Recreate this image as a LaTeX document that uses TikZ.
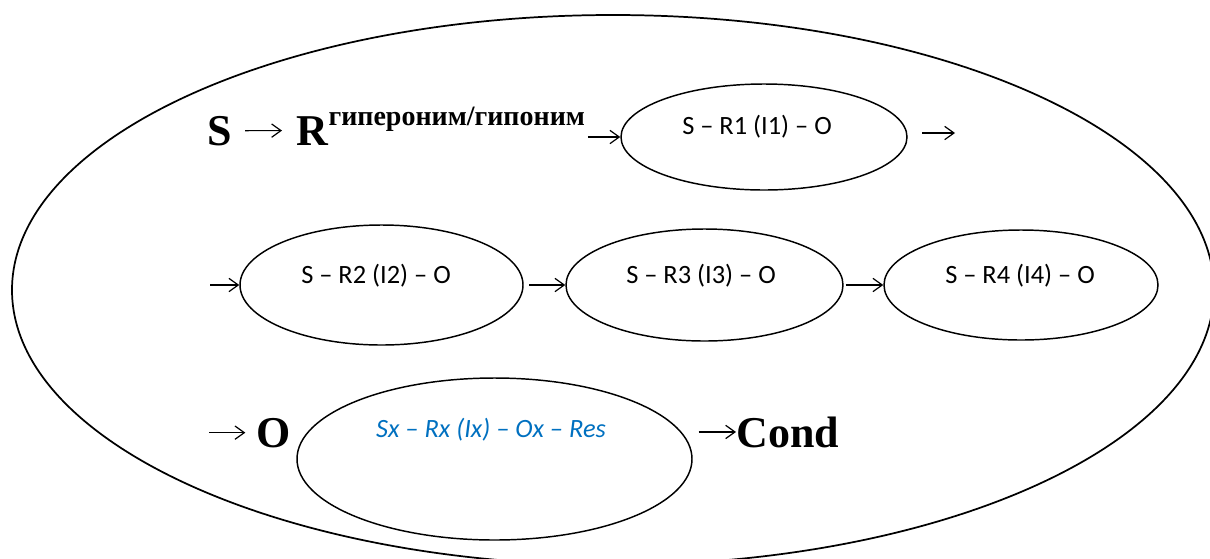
\documentclass[tikz,border=0pt]{standalone}
\usepackage{fontspec}
\setmainfont{Liberation Serif}
\newfontfamily\calfont{Carlito}
\usetikzlibrary{shapes.geometric,arrows.meta}
\definecolor{wblue}{RGB}{0,112,192}
\begin{document}
\begin{tikzpicture}[x=0.75pt,y=-0.75pt,
  ell/.style={draw, ellipse, inner sep=0pt, line width=1.1pt},
  bigtxt/.style={font=\bfseries\fontsize{33}{36}\selectfont, inner sep=0pt, anchor=base west},
  suptxt/.style={font=\bfseries\fontsize{21}{24}\selectfont, inner sep=0pt, anchor=base west},
  lbl/.style={font=\calfont\fontsize{19.8}{22}\selectfont, inner sep=0pt, anchor=base},
  arr/.style={line width=0.9pt, -{Straight Barb[length=7pt,width=10pt]}}]
\useasboundingbox (0,0) rectangle (1210,558);
\begin{scope}
\clip (0,0) rectangle (1210,558);
\node[ell, line width=1.3pt, minimum width=1202*0.75pt, minimum height=550*0.75pt] (frame) at (613,290) {};
\end{scope}
% row 1
\node[bigtxt] (S) at (207,145) {S};
\node[bigtxt] (R) at (296,145) {R};
\node[suptxt] (sup) at ([yshift=15pt]R.base east) {гипероним/гипоним};
\node[ell, minimum width=286*0.75pt, minimum height=106*0.75pt] (e1) at (764,137) {};
\node[lbl] (t1) at (757,134) {S – R1 (I1) – O};
\coordinate (out1) at (955,133);
\draw[arr] ([xshift=9.75pt]S.east) -- ([xshift=-10.5pt]R.west);
\draw[arr] ([xshift=2pt]sup.east |- e1.west) -- (e1.west);
\draw[arr] ([xshift=11pt]e1.east |- out1) -- (out1);
% row 2
\node[ell, minimum width=283*0.75pt, minimum height=120*0.75pt] (e2) at (381.5,285) {};
\node[lbl] (t2) at (376,283) {S – R2 (I2) – O};
\node[ell, minimum width=277*0.75pt, minimum height=112*0.75pt] (e3) at (704.5,285) {};
\node[lbl] (t3) at (701,283) {S – R3 (I3) – O};
\node[ell, minimum width=274*0.75pt, minimum height=110*0.75pt] (e4) at (1021,285) {};
\node[lbl] (t4) at (1020,283) {S – R4 (I4) – O};
\coordinate (in2) at (210,285);
\draw[arr] (in2) -- (e2.west);
\draw[arr] ([xshift=4pt]e2.east) -- (e3.west);
\draw[arr] ([xshift=1.5pt]e3.east) -- (e4.west);
% row 3
\node[bigtxt] (O) at (256,447) {O};
\node[ell, minimum width=395*0.75pt, minimum height=162*0.75pt] (e5) at (494.5,459) {};
\node[lbl, text=wblue, font=\calfont\itshape\fontsize{19.8}{22}\selectfont] (t5) at (491,437) {Sx – Rx (Ix) – Ox – Res};
\node[bigtxt] (C) at (736,447) {Cond};
\draw[arr] ([xshift=-35pt]O.west) -- ([xshift=-8pt]O.west);
\draw[arr] ([xshift=-28pt]C.west) -- (C.west);
\end{tikzpicture}
\end{document}
